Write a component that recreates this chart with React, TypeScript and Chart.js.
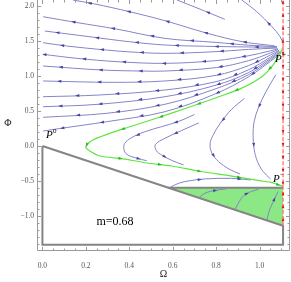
import React, { useEffect, useRef } from 'react';
import { Chart, registerables } from 'chart.js';
Chart.register(...registerables);

type Pt = { x: number; y: number };
const toPts = (a: number[][]): Pt[] => a.map(([x, y]) => ({ x, y }));

const SERIF = "'Liberation Serif', 'DejaVu Serif', serif";

// axis ticks
const xTickValues = [0, 0.2, 0.4, 0.6, 0.8, 1.0];
const yTickValues = [-1.0, -0.5, 0, 0.5, 1.0, 1.5, 2.0];

// fixed points
const pPlus = [1.108, 1.41];
const pMinus = [1.108, -0.575];
const pZero = [0.003, 0.214];

// boundary of the physical region
const regionBoundary = [[0, 0], [1.108, -1.14], [1.108, -1.41], [0, -1.41], [0, 0]];
const regionShelf = [[0.578, -0.595], [1.108, -0.595]];
const greenRegion = [[0.578, -0.595], [1.108, -0.595], [1.108, -1.14], [0.578, -0.595]];

// red invariant line
const redUpper = [[1.108, 1.41], [1.108, 2.086]];
const redMiddle = [[1.108, 1.41], [1.108, -0.575]];
const redLower = [[1.108, -1.14], [1.108, -0.575]];

// separatrix P+ -> P-
const separatrix = [[1.108, 1.41], [1.09, 1.30], [1.06, 1.15], [1.01, 0.99], [0.92, 0.83], [0.80, 0.69], [0.671, 0.55], [0.532, 0.404], [0.388, 0.261], [0.30, 0.17], [0.232, 0.086], [0.205, 0.02], [0.2, -0.024], [0.218, -0.071], [0.264, -0.143], [0.388, -0.19], [0.472, -0.239], [0.595, -0.286], [0.717, -0.357], [0.872, -0.429], [1.0, -0.495], [1.057, -0.524], [1.108, -0.575]];

// stream lines leaving P+ towards the left
const fan1 = [[1.07, 1.43], [1.03, 1.445], [0.92, 1.49], [0.76, 1.61], [0.564, 1.79], [0.40, 1.92], [0.24, 2.03], [0.14, 2.086]];
const fan2 = [[1.08, 1.42], [0.95, 1.44], [0.8, 1.48], [0.564, 1.538], [0.341, 1.671], [0.164, 1.761], [0.003, 1.847]];
const fan3 = [[1.08, 1.41], [0.95, 1.415], [0.75, 1.425], [0.564, 1.443], [0.4, 1.49], [0.218, 1.561], [0.011, 1.643]];
const fan4 = [[1.08, 1.40], [0.95, 1.38], [0.78, 1.345], [0.564, 1.324], [0.4, 1.345], [0.295, 1.371], [0.111, 1.429], [0.003, 1.476]];
const fan5 = [[1.085, 1.39], [1.05, 1.36], [0.95, 1.29], [0.8, 1.22], [0.564, 1.181], [0.349, 1.204], [0.157, 1.253], [0.003, 1.31]];
const fan6 = [[1.085, 1.38], [1.05, 1.33], [0.95, 1.22], [0.8, 1.12], [0.564, 1.071], [0.463, 1.071], [0.272, 1.086], [0.003, 1.143]];
const fan7 = [[1.09, 1.37], [1.05, 1.30], [0.95, 1.15], [0.8, 1.01], [0.564, 0.929], [0.326, 0.91], [0.003, 0.929]];
const fan8 = [[1.09, 1.36], [1.05, 1.27], [0.95, 1.09], [0.8, 0.92], [0.564, 0.8], [0.264, 0.729], [0.003, 0.704]];
const fan9 = [[1.095, 1.35], [1.05, 1.25], [0.95, 1.05], [0.8, 0.87], [0.564, 0.704], [0.257, 0.596], [0.003, 0.561]];
const fan10 = [[1.095, 1.34], [1.05, 1.23], [0.95, 1.02], [0.8, 0.82], [0.564, 0.596], [0.295, 0.467], [0.003, 0.41]];
const fan11 = [[1.1, 1.33], [1.05, 1.21], [0.95, 0.99], [0.8, 0.75], [0.564, 0.49], [0.295, 0.347], [0.08, 0.25], [0.003, 0.214]];
const topSeg = [[0.84, 1.81], [0.73, 1.95], [0.62, 2.086]];
const topRight = [[1.108, 1.46], [1.095, 1.56], [1.057, 1.704], [0.987, 1.919], [0.918, 2.086]];

// stream lines turning below the separatrix towards P-
const turn1 = [[0.70, 0.45], [0.624, 0.347], [0.472, 0.204], [0.40, 0.10], [0.375, 0.01], [0.385, -0.11], [0.43, -0.17], [0.48, -0.21]];
const turn2 = [[0.72, 0.33], [0.64, 0.22], [0.564, 0.11], [0.52, 0.02], [0.525, -0.07], [0.55, -0.13], [0.595, -0.205], [0.65, -0.27]];
const turn3 = [[0.93, 0.68], [0.87, 0.52], [0.82, 0.33], [0.785, 0.15], [0.772, 0.03], [0.78, -0.10], [0.81, -0.22], [0.86, -0.33], [0.91, -0.40]];
const turn4 = [[1.075, 1.02], [1.03, 0.78], [0.995, 0.55], [0.975, 0.35], [0.97, 0.15], [0.975, -0.05], [0.99, -0.22], [1.015, -0.36], [1.05, -0.47]];
const shelfLine = [[0.59, -0.585], [0.63, -0.53], [0.68, -0.495], [0.75, -0.47], [0.87, -0.462], [0.96, -0.485]];

// stream lines inside the green region
const tri1 = [[0.72, -0.74], [0.745, -0.68], [0.78, -0.643], [0.849, -0.61]];
const tri2 = [[0.887, -0.91], [0.905, -0.80], [0.934, -0.69], [0.995, -0.615]];
const tri3 = [[1.034, -1.06], [1.042, -0.95], [1.057, -0.833], [1.085, -0.65]];

const annotation = { text: 'm=0.68', x: 0.334, y: -1.086 };

const BLUE = '#8484c8';
const BLUE_ARROW = '#4646a6';
const GREEN = '#5ee63c';
const GREEN_ARROW = '#2cb82c';
const RED = 'rgba(255,110,110,0.85)';
const RED_ARROW = '#e01010';

const fmt = (v: number) => {
  const s = Math.abs(v).toFixed(1);
  return v < -1e-9 ? '\u2212' + s : s;
};

function drawArrows(ctx: CanvasRenderingContext2D, pts: Pt[], gap: number, start: number, color: string, size: number) {
  let acc = 0;
  let next = start;
  for (let i = 1; i < pts.length; i++) {
    const a = pts[i - 1], b = pts[i];
    const seg = Math.hypot(b.x - a.x, b.y - a.y);
    if (seg === 0) continue;
    while (acc + seg >= next) {
      const t = (next - acc) / seg;
      const px = a.x + (b.x - a.x) * t;
      const py = a.y + (b.y - a.y) * t;
      const ang = Math.atan2(b.y - a.y, b.x - a.x);
      ctx.save();
      ctx.translate(px, py);
      ctx.rotate(ang);
      ctx.beginPath();
      ctx.moveTo(size, 0);
      ctx.lineTo(-size * 0.7, size * 0.6);
      ctx.lineTo(-size * 0.7, -size * 0.6);
      ctx.closePath();
      ctx.fillStyle = color;
      ctx.fill();
      ctx.restore();
      next += gap;
    }
    acc += seg;
  }
}

const overlay = {
  id: 'overlay',
  afterDatasetsDraw(chart: any) {
    const ctx: CanvasRenderingContext2D = chart.ctx;
    chart.data.datasets.forEach((ds: any, i: number) => {
      if (!ds.arrow) return;
      const meta = chart.getDatasetMeta(i);
      const pts = meta.data.map((p: any) => ({ x: p.x, y: p.y }));
      drawArrows(ctx, pts, ds.arrow.gap, ds.arrow.start, ds.arrow.color, ds.arrow.size);
    });
  },
  afterDraw(chart: any) {
    const ctx: CanvasRenderingContext2D = chart.ctx;
    const { left, right, top, bottom } = chart.chartArea;
    const xs = chart.scales.x, ys = chart.scales.y;
    ctx.save();
    ctx.strokeStyle = '#9a9a9a';
    ctx.lineWidth = 1;
    ctx.beginPath();
    ctx.moveTo(left + 0.5, top);
    ctx.lineTo(left + 0.5, bottom - 0.5);
    ctx.lineTo(right - 0.5, bottom - 0.5);
    ctx.lineTo(right - 0.5, top);
    ctx.stroke();
    // ticks
    const tick = (v: number, major: boolean, axis: 'x' | 'y') => {
      const len = major ? 4 : 2.5;
      ctx.beginPath();
      if (axis === 'x') {
        const px = Math.round(xs.getPixelForValue(v)) + 0.5;
        ctx.moveTo(px, bottom); ctx.lineTo(px, bottom - len);
        ctx.moveTo(px, top); ctx.lineTo(px, top + len);
      } else {
        const py = Math.round(ys.getPixelForValue(v)) + 0.5;
        ctx.moveTo(left, py); ctx.lineTo(left + len, py);
        ctx.moveTo(right, py); ctx.lineTo(right - len, py);
      }
      ctx.stroke();
    };
    for (let k = 0; k <= 22; k++) {
      const v = k * 0.05;
      tick(v, k % 4 === 0, 'x');
    }
    for (let k = -14; k <= 20; k++) {
      const v = k * 0.1;
      tick(v, k % 5 === 0, 'y');
    }
    // y title
    ctx.fillStyle = '#222';
    ctx.font = `10px ${SERIF}`;
    ctx.textAlign = 'center';
    ctx.textBaseline = 'middle';
    ctx.fillText('\u03A6', 8, ys.getPixelForValue(0.33));
    // fixed point labels
    const label = (p: number[], dx: number, dy: number, sup: string, sdx: number, sdy: number) => {
      const px = xs.getPixelForValue(p[0]);
      const py = ys.getPixelForValue(p[1]);
      ctx.fillStyle = '#000';
      ctx.textAlign = 'left';
      ctx.textBaseline = 'alphabetic';
      ctx.font = `italic 11px ${SERIF}`;
      ctx.fillText('P', px + dx, py + dy);
      ctx.font = `7px ${SERIF}`;
      ctx.fillText(sup, px + dx + sdx, py + dy + sdy);
    };
    label(pPlus, -8, 15, '+', 7, -5);
    label(pMinus, -10, -4, '\u2212', 7, -5);
    label(pZero, 3, 7, '0', 7, -5);
    // annotation
    ctx.fillStyle = '#000';
    ctx.font = `12px ${SERIF}`;
    ctx.textAlign = 'center';
    ctx.textBaseline = 'middle';
    ctx.fillText(annotation.text, xs.getPixelForValue(annotation.x), ys.getPixelForValue(annotation.y));
    ctx.restore();
  },
};

function line(data: number[][], color: string, width: number, arrow: any, tension = 0.35, extra: any = {}) {
  return {
    data: toPts(data),
    showLine: true,
    borderColor: color,
    borderWidth: width,
    pointRadius: 0,
    pointHoverRadius: 0,
    tension,
    fill: false,
    arrow,
    ...extra,
  };
}

export default function App() {
  const ref = useRef<HTMLCanvasElement | null>(null);
  useEffect(() => {
    if (!ref.current) return;
    const blue = (d: number[][], start: number) => line(d, BLUE, 1, { gap: 40, start, color: BLUE_ARROW, size: 2.5 });
    const red = (d: number[][]) => line(d, RED, 1.5, { gap: 13, start: 6, color: RED_ARROW, size: 2.2 }, 0, { borderDash: [4, 2] });
    const datasets: any[] = [
      red(redUpper),
      red(redMiddle),
      red(redLower),
      line(separatrix, GREEN, 1.2, { gap: 40, start: 25, color: GREEN_ARROW, size: 2.5 }, 0.3),
      blue(fan1, 30), blue(fan2, 45), blue(fan3, 20), blue(fan4, 55), blue(fan5, 35),
      blue(fan6, 60), blue(fan7, 25), blue(fan8, 50), blue(fan9, 30), blue(fan10, 55), blue(fan11, 35),
      blue(topSeg, 18), blue(topRight, 25),
      blue(turn1, 20), blue(turn2, 25), blue(turn3, 30), blue(turn4, 35), blue(shelfLine, 30),
      blue(tri1, 18), blue(tri2, 20), blue(tri3, 22),
      line(regionShelf, '#858585', 2, null, 0),
      line(regionBoundary, '#858585', 2, null, 0),
      { data: toPts(greenRegion), showLine: true, borderWidth: 0, borderColor: 'rgba(0,0,0,0)', backgroundColor: 'rgb(140,232,132)', pointRadius: 0, tension: 0, fill: 'shape' },
    ];
    const chart = new Chart(ref.current, {
      type: 'scatter',
      data: { datasets },
      options: {
        animation: false,
        responsive: false,
        devicePixelRatio: 1,
        layout: { padding: { left: 0, right: 1, top: 0, bottom: 0 } },
        plugins: { legend: { display: false }, tooltip: { enabled: false } },
        events: [],
        scales: {
          x: {
            type: 'linear',
            min: -0.025,
            max: 1.14,
            afterBuildTicks: (s: any) => { s.ticks = xTickValues.map((v) => ({ value: v })); },
            afterFit: (s: any) => { s.height = 31; s.paddingLeft = 0; s.paddingRight = 0; },
            ticks: { callback: (v: any) => fmt(Number(v)), font: { family: SERIF, size: 7.5 }, color: '#555', padding: 11, maxRotation: 0, autoSkip: false },
            grid: { display: false, drawTicks: false },
            border: { display: false },
            title: { display: true, text: '\u03A9', font: { family: SERIF, size: 10 }, color: '#222', padding: { top: 0, bottom: 2 } },
          },
          y: {
            type: 'linear',
            min: -1.5,
            max: 2.086,
            afterBuildTicks: (s: any) => { s.ticks = yTickValues.map((v) => ({ value: v })); },
            afterFit: (s: any) => { s.width = 37; s.paddingTop = 0; s.paddingBottom = 0; },
            ticks: { callback: (v: any) => fmt(Number(v)), font: { family: SERIF, size: 7.5 }, color: '#555', padding: 3, autoSkip: false },
            grid: { display: false, drawTicks: false },
            border: { display: false },
          },
        },
      },
      plugins: [overlay],
    } as any);
    return () => chart.destroy();
  }, []);
  return (
    <div style={{ position: 'absolute', left: 0, top: 0, width: 291, height: 282, background: '#fff' }}>
      <canvas ref={ref} width={291} height={282} style={{ display: 'block' }} />
    </div>
  );
}
